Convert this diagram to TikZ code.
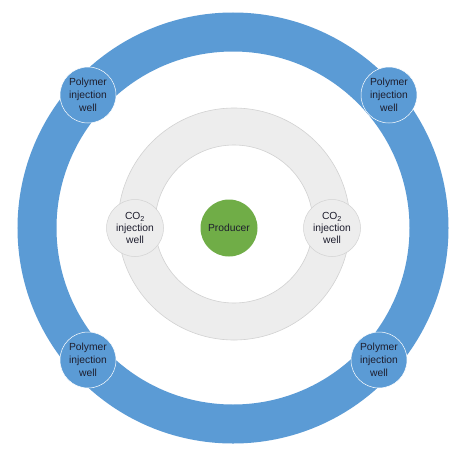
\documentclass[tikz,border=0pt]{standalone}
\usepackage{fontspec}
\setmainfont{Liberation Sans}
\usepackage{tikz}
\definecolor{ringblue}{HTML}{5B9BD5}
\definecolor{ringgray}{HTML}{EDEDED}
\definecolor{edgegray}{HTML}{D2D2D2}
\definecolor{prodgreen}{HTML}{70AD47}
\definecolor{txtdark}{HTML}{1E1E2E}
\tikzstyle{polywell}=[circle,draw=white,fill=ringblue,line width=0.5pt,
                      inner sep=0pt,minimum size=56pt,text=txtdark,
                      align=center,font=\fontsize{10.3}{13}\selectfont]
\tikzstyle{cowell}=[circle,draw=edgegray,fill=ringgray,line width=0.5pt,
                    inner sep=0pt,minimum size=57pt,text=txtdark,
                    align=center,font=\fontsize{10.3}{12}\selectfont]
\tikzstyle{producer}=[circle,fill=prodgreen,
                      inner sep=0pt,minimum size=57pt,text=txtdark,
                      font=\fontsize{10.3}{12}\selectfont]

\begin{document}
\begin{tikzpicture}[x=1pt,y=-1pt]
    \useasboundingbox[fill=white] (0,0) rectangle (468,458);
    \newcommand{\ringsz}{39pt}
    % outer ring
    \draw[ringblue,line width=\ringsz] (233,228) circle (196);
    % inner ring
    \fill[ringgray,even odd rule] (234,224) circle (116) (234,224) circle (79);
    \draw[edgegray,line width=0.6pt] (234,224) circle (116);
    \draw[edgegray,line width=0.6pt] (234,224) circle (79);
    % wells
    \node (prod) at (229,228) [producer]{Producer};
    \node (c1) at (135,228) [cowell]{CO\textsubscript{2}\\injection\\well};
    \node (c2) at (332,228) [cowell]{CO\textsubscript{2}\\injection\\well};
    \node (p1) at (88,95) [polywell]{Polymer\\injection\\well};
    \node (p2) at (389,95) [polywell]{Polymer\\injection\\well};
    \node (p3) at (88,360) [polywell]{Polymer\\injection\\well};
    \node (p4) at (379,360) [polywell]{Polymer\\injection\\well};
  \end{tikzpicture}
\end{document}
